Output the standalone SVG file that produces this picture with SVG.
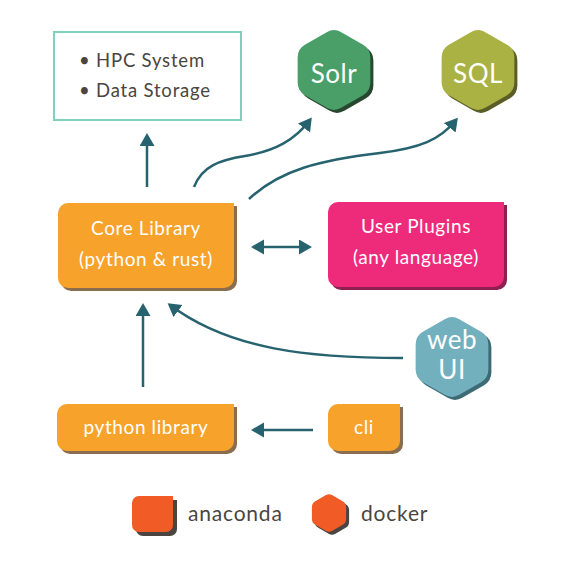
<svg xmlns="http://www.w3.org/2000/svg" xmlns:xlink="http://www.w3.org/1999/xlink" width="566" height="565" viewBox="0 0 566 565">
<style>
  .t { font-family: Lato, "Noto Sans", sans-serif; fill: #ffffff; text-anchor: middle; }
  .n { font-size: 19px; letter-spacing: 0.6px; }
  .h { font-size: 26px; letter-spacing: 0.5px; }
  .d { font-family: Lato, "Noto Sans", sans-serif; fill: #4a4541; font-size: 18.5px; letter-spacing: 0.8px; }
  .lg { font-size: 21px; letter-spacing: 0.8px; }
  .conn { fill: none; stroke: #26636f; stroke-width: 2.5; }
  .orange { fill: #f7a22b; } .orange-sh { fill: #8a6d4e; }
  .pink { fill: #ee2a7b; } .pink-sh { fill: #8e1f51; }
  .green { fill: #4a9e68; } .green-sh { fill: #27472f; }
  .olive { fill: #a9b243; } .olive-sh { fill: #5b5d27; }
  .blue { fill: #72b0be; } .blue-sh { fill: #3c6b75; }
  .red { fill: #f15b25; } .red-sh { fill: #4a4541; }
</style>
<defs>
  <marker id="ah" markerUnits="userSpaceOnUse" markerWidth="14" markerHeight="16" refX="10" refY="7.5" orient="auto-start-reverse">
    <path d="M0,0 L13,7.5 L0,15 Z" fill="#26636f"/>
  </marker>
  <path id="hex" d="M-7.27,-37.8 Q0,-42 7.27,-37.8 L29.1,-25.2 Q36.37,-21 36.37,-12.6 L36.37,12.6 Q36.37,21 29.1,25.2 L7.27,37.8 Q0,42 -7.27,37.8 L-29.1,25.2 Q-36.37,21 -36.37,12.6 L-36.37,-12.6 Q-36.37,-21 -29.1,-25.2 Z"/>
  <path id="core-shape" d="M68,203 H234 V278 A10,10 0 0 1 224,288 H68 A10,10 0 0 1 58,278 V213 A10,10 0 0 1 68,203 Z"/>
  <path id="plug-shape" d="M338,202 H504 V277 A10,10 0 0 1 494,287 H338 A10,10 0 0 1 328,277 V212 A10,10 0 0 1 338,202 Z"/>
  <path id="pylib-shape" d="M67,404 H234 V441 A10,10 0 0 1 224,451 H67 A10,10 0 0 1 57,441 V414 A10,10 0 0 1 67,404 Z"/>
  <path id="cli-shape" d="M338,404 H400 V441 A10,10 0 0 1 390,451 H338 A10,10 0 0 1 328,441 V414 A10,10 0 0 1 338,404 Z"/>
  <path id="ana-shape" d="M139,496 H173 V525 A7,7 0 0 1 166,532 H139 A7,7 0 0 1 132,525 V503 A7,7 0 0 1 139,496 Z"/>
</defs>

<g id="connectors">
  <path class="conn" marker-end="url(#ah)" d="M147,187 V136"/>
  <path class="conn" marker-end="url(#ah)" d="M194,187 C202,166 220,160 245,156 C275,151 295,140 310,120"/>
  <path class="conn" marker-end="url(#ah)" d="M249,199 C280,170 320,160 380,153 C420,148 440,140 456,120"/>
  <path class="conn" marker-start="url(#ah)" marker-end="url(#ah)" d="M254,247 H309"/>
  <path class="conn" marker-end="url(#ah)" d="M403,358 C310,358 230,350 170,305"/>
  <path class="conn" marker-end="url(#ah)" d="M143,387 V306"/>
  <path class="conn" marker-end="url(#ah)" d="M313,430 H254"/>
</g>

<g id="hpc">
  <rect x="54" y="32" width="187" height="88" fill="#ffffff" stroke="#80d0bf" stroke-width="2"/>
  <text class="d" x="79" y="67">• HPC System</text>
  <text class="d" x="79" y="97">• Data Storage</text>
</g>

<g id="solr">
  <use xlink:href="#hex" class="green-sh" transform="translate(337,73)"/>
  <use xlink:href="#hex" class="green" transform="translate(334,70)"/>
  <text class="t h" x="334" y="83">Solr</text>
</g>

<g id="sql">
  <use xlink:href="#hex" class="olive-sh" transform="translate(481,73)"/>
  <use xlink:href="#hex" class="olive" transform="translate(478,70)"/>
  <text class="t h" x="478" y="83">SQL</text>
</g>

<g id="core">
  <use xlink:href="#core-shape" class="orange-sh" transform="translate(3,3)"/>
  <use xlink:href="#core-shape" class="orange"/>
  <text class="t n" x="146" y="235">Core Library</text>
  <text class="t n" x="146" y="266">(python &amp; rust)</text>
</g>

<g id="plugins">
  <use xlink:href="#plug-shape" class="pink-sh" transform="translate(3,3)"/>
  <use xlink:href="#plug-shape" class="pink"/>
  <text class="t n" x="416" y="233">User Plugins</text>
  <text class="t n" x="416" y="264">(any language)</text>
</g>

<g id="webui">
  <use xlink:href="#hex" class="blue-sh" transform="translate(455,360)"/>
  <use xlink:href="#hex" class="blue" transform="translate(452,357)"/>
  <text class="t h" x="452" y="349">web</text>
  <text class="t h" x="452" y="379">UI</text>
</g>

<g id="pylib">
  <use xlink:href="#pylib-shape" class="orange-sh" transform="translate(3,3)"/>
  <use xlink:href="#pylib-shape" class="orange"/>
  <text class="t n" x="146" y="434">python library</text>
</g>

<g id="cli">
  <use xlink:href="#cli-shape" class="orange-sh" transform="translate(3,3)"/>
  <use xlink:href="#cli-shape" class="orange"/>
  <text class="t n" x="364" y="434">cli</text>
</g>

<g id="legend-anaconda">
  <use xlink:href="#ana-shape" class="red-sh" transform="translate(4,4)"/>
  <use xlink:href="#ana-shape" class="red"/>
  <text class="d lg" x="188" y="521">anaconda</text>
</g>

<g id="legend-docker">
  <use xlink:href="#hex" class="red-sh" transform="translate(332,516) scale(0.47)"/>
  <use xlink:href="#hex" class="red" transform="translate(329,513) scale(0.47)"/>
  <text class="d lg" x="361" y="521">docker</text>
</g>
</svg>
